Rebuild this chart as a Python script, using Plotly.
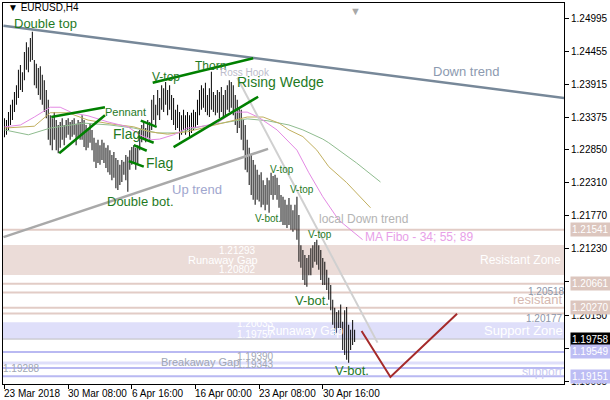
import plotly.graph_objects as go

# ---------------- data ----------------
high = [1.2336, 1.2333, 1.2346, 1.2358, 1.2366, 1.2379, 1.2390, 1.2415, 1.2423, 1.2411,
        1.2444, 1.2460, 1.2452, 1.2467, 1.2477, 1.2431, 1.2425, 1.2418, 1.2421, 1.2407,
        1.2398, 1.2382, 1.2366, 1.2341, 1.2336, 1.2346, 1.2333, 1.2325, 1.2330, 1.2336,
        1.2325, 1.2333, 1.2336, 1.2330, 1.2333, 1.2336, 1.2327, 1.2333, 1.2330, 1.2341,
        1.2333, 1.2325, 1.2320, 1.2328, 1.2317, 1.2304, 1.2296, 1.2301, 1.2292, 1.2301,
        1.2296, 1.2288, 1.2292, 1.2284, 1.2276, 1.2281, 1.2271, 1.2268, 1.2260, 1.2268,
        1.2265, 1.2276, 1.2273, 1.2284, 1.2289, 1.2292, 1.2288, 1.2292, 1.2317, 1.2325,
        1.2330, 1.2320, 1.2333, 1.2330, 1.2366, 1.2374, 1.2358, 1.2382, 1.2369, 1.2390,
        1.2385, 1.2395, 1.2382, 1.2390, 1.2374, 1.2369, 1.2350, 1.2358, 1.2346, 1.2341,
        1.2350, 1.2341, 1.2346, 1.2341, 1.2345, 1.2350, 1.2346, 1.2366, 1.2382, 1.2390,
        1.2385, 1.2394, 1.2374, 1.2385, 1.2412, 1.2379, 1.2374, 1.2382, 1.2379, 1.2387,
        1.2374, 1.2382, 1.2390, 1.2398, 1.2395, 1.2390, 1.2374, 1.2366, 1.2353, 1.2350,
        1.2333, 1.2325, 1.2301, 1.2288, 1.2276, 1.2268, 1.2260, 1.2252, 1.2244, 1.2248,
        1.2235, 1.2227, 1.2239, 1.2235, 1.2247, 1.2242, 1.2244, 1.2239, 1.2227, 1.2211,
        1.2208, 1.2203, 1.2195, 1.2206, 1.2195, 1.2186, 1.2195, 1.2208, 1.2178, 1.2129,
        1.2121, 1.2113, 1.2108, 1.2113, 1.2124, 1.2129, 1.2134, 1.2138, 1.2129, 1.2121,
        1.2108, 1.2102, 1.2089, 1.2076, 1.2064, 1.2040, 1.2027, 1.2020, 1.2023, 1.2032,
        1.2004, 1.2023, 1.2028, 1.1999, 1.1991, 1.2007, 1.1991]
low = [1.2305, 1.2309, 1.2317, 1.2325, 1.2333, 1.2346, 1.2358, 1.2369, 1.2382, 1.2379,
       1.2398, 1.2415, 1.2411, 1.2428, 1.2431, 1.2390, 1.2385, 1.2374, 1.2366, 1.2358,
       1.2346, 1.2336, 1.2301, 1.2292, 1.2284, 1.2301, 1.2284, 1.2279, 1.2288, 1.2301,
       1.2292, 1.2304, 1.2309, 1.2301, 1.2306, 1.2309, 1.2292, 1.2304, 1.2301, 1.2301,
       1.2289, 1.2284, 1.2288, 1.2296, 1.2284, 1.2265, 1.2255, 1.2263, 1.2260, 1.2268,
       1.2263, 1.2255, 1.2248, 1.2244, 1.2235, 1.2239, 1.2222, 1.2219, 1.2227, 1.2232,
       1.2244, 1.2235, 1.2216, 1.2252, 1.2260, 1.2263, 1.2252, 1.2260, 1.2284, 1.2297,
       1.2301, 1.2297, 1.2304, 1.2301, 1.2317, 1.2333, 1.2325, 1.2341, 1.2333, 1.2350,
       1.2346, 1.2358, 1.2341, 1.2350, 1.2333, 1.2325, 1.2317, 1.2320, 1.2301, 1.2309,
       1.2317, 1.2309, 1.2317, 1.2306, 1.2312, 1.2317, 1.2320, 1.2325, 1.2341, 1.2350,
       1.2353, 1.2346, 1.2341, 1.2338, 1.2350, 1.2346, 1.2341, 1.2345, 1.2336, 1.2346,
       1.2336, 1.2341, 1.2350, 1.2346, 1.2353, 1.2341, 1.2325, 1.2312, 1.2320, 1.2301,
       1.2284, 1.2252, 1.2248, 1.2227, 1.2211, 1.2203, 1.2195, 1.2203, 1.2200, 1.2191,
       1.2195, 1.2186, 1.2195, 1.2182, 1.2211, 1.2203, 1.2211, 1.2203, 1.2190, 1.2167,
       1.2162, 1.2162, 1.2157, 1.2162, 1.2154, 1.2151, 1.2154, 1.2138, 1.2102, 1.2092,
       1.2072, 1.2064, 1.2061, 1.2080, 1.2080, 1.2092, 1.2102, 1.2097, 1.2089, 1.2072,
       1.2064, 1.2064, 1.2056, 1.2040, 1.2023, 1.1999, 1.1983, 1.1986, 1.1994, 1.1991,
       1.1958, 1.1950, 1.1942, 1.1937, 1.1958, 1.1966, 1.1971]

# moving averages (shifted forward), sampled at bar indices
ma34_bar = [0, 8, 15, 23, 28, 34, 42, 52, 62, 68, 74, 78, 85, 92, 98, 107, 115, 122, 128, 137, 147, 153, 160, 168, 180]
ma34_val = [1.2322, 1.2325, 1.2338, 1.2354, 1.2354, 1.2345, 1.2340, 1.2330, 1.2322, 1.2309, 1.2301, 1.2302, 1.2309,
            1.2320, 1.2322, 1.2328, 1.2346, 1.2346, 1.2337, 1.2317, 1.2284, 1.2247, 1.2208, 1.2170, 1.2138]
ma55_bar = [0, 15, 23, 32, 42, 53, 65, 73, 82, 92, 102, 112, 122, 130, 138, 143, 150, 157, 163, 172, 184]
ma55_val = [1.2320, 1.2323, 1.2345, 1.2345, 1.2333, 1.2327, 1.2322, 1.2314, 1.2310, 1.2314, 1.2322, 1.2330, 1.2338,
            1.2338, 1.2328, 1.2317, 1.2306, 1.2284, 1.2257, 1.2231, 1.2190]
ma89_bar = [0, 12, 23, 40, 53, 65, 77, 87, 98, 112, 122, 132, 143, 150, 160, 163, 177, 189]
ma89_val = [1.2317, 1.2309, 1.2320, 1.2328, 1.2325, 1.2320, 1.2312, 1.2312, 1.2322, 1.2330, 1.2335, 1.2332, 1.2325,
            1.2317, 1.2302, 1.2296, 1.2263, 1.2232]

x_tick_bars = [0, 32, 64, 96, 128, 160]
x_tick_labels = ["23 Mar 2018", "30 Mar 08:00", "6 Apr 16:00", "16 Apr 00:00", "23 Apr 08:00", "30 Apr 16:00"]
y_tick_vals = [1.24995, 1.24455, 1.23915, 1.23375, 1.22850, 1.22310, 1.21770, 1.21230, 1.20690, 1.20150, 1.19610, 1.19065]

resist_zone = [1.20802, 1.21293]
support_zone = [1.19757, 1.20033]
breakaway_gap = [1.19343, 1.19390]
resist_levels = [1.21541, 1.20661, 1.20518, 1.20270, 1.20177]
support_levels = [1.19549, 1.19288, 1.19151]
bid_price = 1.19758

# trend / pattern lines: (bar0, price0, bar1, price1)
down_trend = (-0.5, 1.2487, 281.5, 1.2369)
up_trend = (-0.5, 1.2142, 132.5, 1.2286)
local_down = (117, 1.2402, 187.5, 1.1970)
projection_bar = [179.5, 194, 227.5]
projection_val = [1.1989, 1.1914, 1.2017]
green_lines = [
    (23.5, 1.2338, 50.5, 1.2354),   # pennant top
    (27.5, 1.2279, 50.5, 1.2341),   # pennant bottom
    (68.5, 1.2332, 76.5, 1.2322),   # flag 1
    (67, 1.2306, 75, 1.2296),
    (65, 1.2292, 71.5, 1.2283),     # flag 2
    (62.5, 1.2266, 70, 1.2257),
    (74.5, 1.2394, 125, 1.2434),    # v-top / thorn line
    (85, 1.2289, 127.5, 1.2371),    # rising wedge lower
]

# ---------------- figure ----------------
X0, X1 = -0.75, 281.25
Y0, Y1 = 1.19025, 1.25240
FONT = "Liberation Sans, Arial, sans-serif"

fig = go.Figure()

shapes = []
def hrect(lo, hi, color):
    shapes.append(dict(type="rect", xref="paper", x0=0, x1=1, yref="y", y0=lo, y1=hi,
                       fillcolor=color, line=dict(width=0), layer="below"))
def hline(v, color, w):
    shapes.append(dict(type="line", xref="paper", x0=0, x1=1, yref="y", y0=v, y1=v,
                       line=dict(color=color, width=w), layer="below"))

hrect(resist_zone[0], resist_zone[1], "#EBDCD8")
hrect(support_zone[0], support_zone[1], "#DFDFFA")
hrect(breakaway_gap[0], breakaway_gap[1], "#DFDFFA")
for v in resist_levels:
    hline(v, "#E2CCC6", 2)
for v in support_levels:
    hline(v, "#B9B9F2", 2)
hline(bid_price, "#C0C0C0", 1)

def seg(t, color, w):
    shapes.append(dict(type="line", xref="x", yref="y", x0=t[0], y0=t[1], x1=t[2], y1=t[3],
                       line=dict(color=color, width=w)))

# moving averages
fig.add_trace(go.Scatter(x=ma89_bar, y=ma89_val, mode="lines", line=dict(color="#8FBC8F", width=1), hoverinfo="skip"))
fig.add_trace(go.Scatter(x=ma55_bar, y=ma55_val, mode="lines", line=dict(color="#C2B060", width=1), hoverinfo="skip"))
fig.add_trace(go.Scatter(x=ma34_bar, y=ma34_val, mode="lines", line=dict(color="#E48AE4", width=1), hoverinfo="skip"))

# price bars (high-low ranges) as 1px columns, rounded to whole pixels
bar_idx = list(range(len(high)))
fig.add_trace(go.Bar(x=bar_idx, y=[h - l for h, l in zip(high, low)], base=low, width=0.5,
                     marker=dict(color="rgba(0,0,0,0.99)", line=dict(width=0)), hoverinfo="skip"))

seg(down_trend, "#778899", 2.5)
seg(up_trend, "#A9A9A9", 2.5)
seg(local_down, "#D0D0D0", 2)
for g in green_lines:
    seg(g, "#008000", 2.5)
fig.add_trace(go.Scatter(x=projection_bar, y=projection_val, mode="lines",
                         line=dict(color="#A52A2A", width=2), hoverinfo="skip"))

ann = []
def txt(x, y, s, color, size, xref="x", xanchor="center", bg=None, yref="y", xshift=0):
    d = dict(x=x, y=y, xref=xref, yref=yref, text=s, showarrow=False, xanchor=xanchor, yanchor="middle",
             font=dict(family=FONT, size=size, color=color), xshift=xshift)
    if bg:
        d.update(bgcolor=bg, borderpad=1)
    ann.append(d)

G = "#1F7A1F"
txt(20.5, 1.2491, "Double top", G, 13)
txt(61, 1.2346, "Pennant", G, 11)
txt(61.2, 1.2310, "Flag", G, 14)
txt(77.7, 1.2263, "Flag", G, 14)
txt(68.5, 1.2201, "Double bot.", G, 13)
txt(81, 1.2403, "V-top", G, 12)
txt(103.5, 1.2421, "Thorn", G, 12)
txt(121, 1.2410, "Ross Hook", "#BDBDCC", 10)
txt(138.5, 1.2395, "Rising Wedge", G, 14)
txt(97, 1.2219, "Up trend", "#A0A6CE", 13)
txt(232, 1.2412, "Down trend", "#8C9AB0", 13)
txt(139.5, 1.2252, "V-top", G, 10)
txt(149.5, 1.2219, "V-top", G, 10)
txt(132.5, 1.2172, "V-bot.", G, 10)
txt(158.5, 1.2146, "V-top", G, 10)
txt(154.5, 1.2038, "V-bot.", G, 13)
txt(174.5, 1.1924, "V-bot.", G, 13)
txt(180.5, 1.2172, "local Down trend", "#B4B4B4", 12)
txt(208.5, 1.2142, "MA Fibo - 34; 55; 89", "#E8A0E8", 12)

W = "white"
txt(117, 1.2121, f"{resist_zone[1]:.5f}", W, 10)
txt(110, 1.2105, "Runaway Gap", W, 11)
txt(117, 1.2089, f"{resist_zone[0]:.5f}", W, 10)
txt(126, 1.2001, f"{support_zone[1]:.5f}", W, 10)
txt(126, 1.1984, f"{support_zone[0]:.5f}", W, 10)
txt(151, 1.1989, "Runaway Gap", W, 12)
txt(98.5, 1.1939, "Breakaway Gap", "#A0A6B4", 11)
txt(126, 1.1947, f"{breakaway_gap[1]:.5f}", "#A0A6B4", 10)
txt(126, 1.1935, f"{breakaway_gap[0]:.5f}", "#A0A6B4", 10)
txt(8.5, 1.1927, f"{support_levels[1]:.5f}", "#A0A6B4", 10)
txt(0.998, 1.2105, "Resistant Zone", W, 12, xref="paper", xanchor="right")
txt(1.005, 1.2054, f"{resist_levels[2]:.5f}", "#8C96AA", 10, xref="paper", xanchor="right")
txt(1.001, 1.2040, "resistant", "#D6B8B0", 13, xref="paper", xanchor="right")
txt(1.001, 1.2010, f"{resist_levels[4]:.5f}", "#8C96AA", 10, xref="paper", xanchor="right")
txt(1.001, 1.1989, "Support Zone", W, 13, xref="paper", xanchor="right")
txt(1.001, 1.1922, "support", "#CACAF2", 12, xref="paper", xanchor="right")

# price tags on right axis
for v, c in [(resist_levels[0], "#DCC6BE"), (resist_levels[1], "#DCC6BE"), (resist_levels[3], "#DCC6BE"),
             (bid_price, "black"), (support_levels[0], "#BDBDF4"), (support_levels[2], "#BDBDF4")]:
    txt(1.0106, v, f"{v:.5f}", "white", 10, xref="paper", xanchor="left", bg=c)

# x labels
for b, s in zip(x_tick_bars, x_tick_labels):
    ann.append(dict(x=b, y=-0.024, xref="x", yref="paper", text=s, showarrow=False, xanchor="left",
                    yanchor="middle", xshift=-2, font=dict(family=FONT, size=10, color="black")))

ann.append(dict(x=0.005, y=0.989, xref="paper", yref="paper", text="▼ EURUSD,H4", showarrow=False,
                xanchor="left", yanchor="middle", font=dict(family=FONT, size=10, color="black")))
ann.append(dict(x=0.629, y=1.0, xref="paper", yref="paper", text="▼", showarrow=False,
                xanchor="center", yanchor="top", font=dict(family=FONT, size=11, color="#A8A8A8")))

fig.update_layout(
    width=610, height=400, margin=dict(l=2, r=44, t=3, b=16),
    paper_bgcolor="white", plot_bgcolor="white", showlegend=False,
    shapes=shapes, annotations=ann,
    xaxis=dict(range=[X0, X1], showgrid=False, zeroline=False, tickvals=x_tick_bars, ticktext=[""] * 6,
               ticks="outside", ticklen=4, tickcolor="black", showline=True, linecolor="black",
               linewidth=1, mirror=True, fixedrange=True),
    yaxis=dict(range=[Y0, Y1], side="right", showgrid=False, zeroline=False, tickvals=y_tick_vals,
               ticktext=[f"{v:.5f}" for v in y_tick_vals], ticks="outside", ticklen=4, tickcolor="black",
               tickfont=dict(family=FONT, size=10, color="black"), showline=True, linecolor="black",
               linewidth=1, mirror=True, fixedrange=True),
)

fig.write_html("out.html", config={"displayModeBar": False},
               post_script="document.body.style.margin='0';document.body.style.padding='0';")
